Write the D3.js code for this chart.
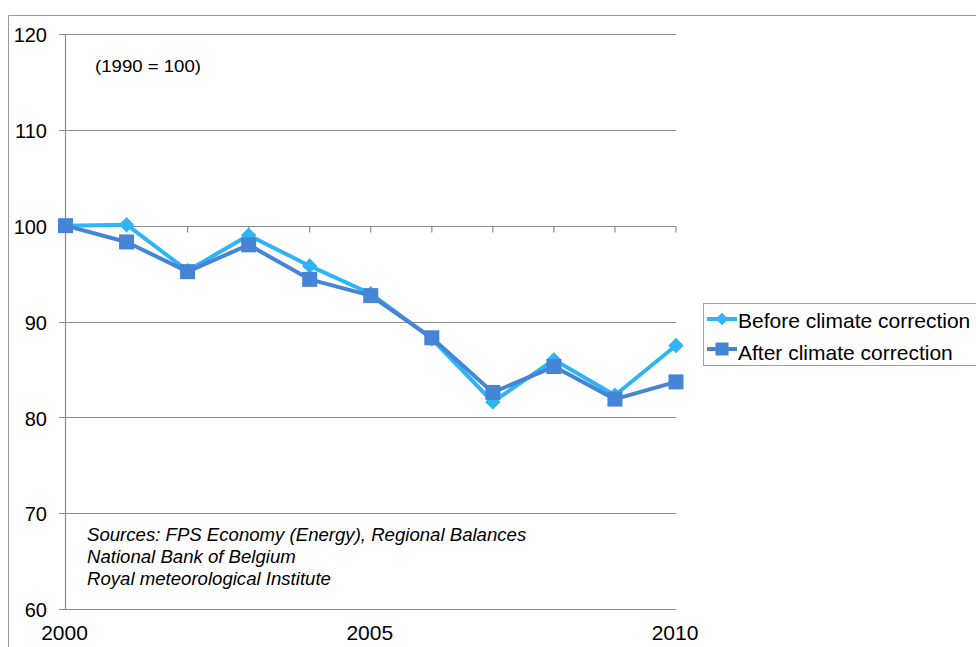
<!DOCTYPE html>
<html>
<head>
<meta charset="utf-8">
<script src="https://cdn.jsdelivr.net/npm/d3@7"></script>
<style>
  html, body { margin: 0; padding: 0; background: #fff; }
  svg { display: block; font-family: "Liberation Sans", Arial, sans-serif; }
</style>
</head>
<body>
<svg id="chart" width="976" height="647"></svg>
<script>
// Energy intensity index, 1990 = 100
const years = [2000, 2001, 2002, 2003, 2004, 2005, 2006, 2007, 2008, 2009, 2010];
const beforeCorrection = [100.0, 100.1, 95.3, 99.0, 95.8, 92.9, 88.2, 81.6, 86.0, 82.3, 87.5];
const afterCorrection  = [100.0, 98.3, 95.2, 98.0, 94.4, 92.7, 88.3, 82.6, 85.3, 81.9, 83.7];
const seriesNames = ["Before climate correction", "After climate correction"];
const yTicks = [60, 70, 80, 90, 100, 110, 120];
const xTickLabels = [2000, 2005, 2010];
const sourceLines = [
  "Sources: FPS Economy (Energy), Regional Balances",
  "National Bank of Belgium",
  "Royal meteorological Institute"
];

const svg = d3.select("#chart");
const colBefore = "#2fb5f7";
const colAfter = "#4684d5";
const gridCol = "#8c8c8c";

// outer chart frame
svg.append("path")
  .attr("d", "M8.5,647 L8.5,15.5 L976,15.5")
  .attr("fill", "none").attr("stroke", "#999").attr("stroke-width", 1);

const x = d3.scaleLinear().domain([2000, 2010]).range([65.5, 676]);
const y = d3.scaleLinear().domain([60, 120]).range([609, 34]);

// horizontal gridlines
svg.append("g").selectAll("line").data(yTicks).join("line")
  .attr("x1", 59).attr("x2", 676)
  .attr("y1", d => Math.round(y(d)) + 0.5).attr("y2", d => Math.round(y(d)) + 0.5)
  .attr("stroke", gridCol).attr("stroke-width", 1.2);

// vertical value axis
svg.append("line")
  .attr("x1", 65.5).attr("x2", 65.5).attr("y1", y(120)).attr("y2", y(60))
  .attr("stroke", gridCol).attr("stroke-width", 1.2);

// category axis crossing at 100, with tick marks below it
const yCross = Math.round(y(100)) + 0.5;
svg.append("g").selectAll("line").data(years).join("line")
  .attr("x1", d => x(d)).attr("x2", d => x(d))
  .attr("y1", yCross).attr("y2", yCross + 6)
  .attr("stroke", gridCol).attr("stroke-width", 1.2);

// y tick labels
svg.append("g").selectAll("text").data(yTicks).join("text")
  .attr("x", 47).attr("y", d => y(d) + 1).attr("dy", "0.36em")
  .attr("text-anchor", "end").attr("font-size", 20).attr("fill", "#000")
  .text(d => d);

// x tick labels
svg.append("g").selectAll("text").data(xTickLabels).join("text")
  .attr("x", d => x(d) - 1).attr("y", 640)
  .attr("text-anchor", "middle").attr("font-size", 21).attr("fill", "#000")
  .text(d => d);

// annotations
svg.append("text").attr("x", 95).attr("y", 72)
  .attr("font-size", 17).attr("fill", "#000")
  .attr("textLength", 106).attr("lengthAdjust", "spacingAndGlyphs")
  .text("(1990 = 100)");

svg.append("g").selectAll("text").data(sourceLines).join("text")
  .attr("x", 87).attr("y", (d, i) => 540.5 + i * 22)
  .attr("font-size", 18.6).attr("font-style", "italic").attr("fill", "#000")
  .text(d => d);

// series lines
const line = d3.line().x((d, i) => x(years[i])).y(d => y(d));

svg.append("path").datum(beforeCorrection)
  .attr("d", line).attr("fill", "none")
  .attr("stroke", colBefore).attr("stroke-width", 4).attr("stroke-linejoin", "round");

svg.append("path").datum(afterCorrection)
  .attr("d", line).attr("fill", "none")
  .attr("stroke", colAfter).attr("stroke-width", 4).attr("stroke-linejoin", "round");

// markers
const diamond = d3.symbol().type(d3.symbolDiamond2).size(150);
svg.append("g").selectAll("path").data(beforeCorrection).join("path")
  .attr("transform", (d, i) => `translate(${x(years[i])},${y(d)})`)
  .attr("d", diamond).attr("fill", colBefore);

svg.append("g").selectAll("rect").data(afterCorrection).join("rect")
  .attr("x", (d, i) => x(years[i]) - 7.5).attr("y", d => y(d) - 7.5)
  .attr("width", 15).attr("height", 15).attr("fill", colAfter);

// legend
const legend = svg.append("g");
legend.append("rect")
  .attr("x", 703.5).attr("y", 303.5).attr("width", 290).attr("height", 62)
  .attr("fill", "#fff").attr("stroke", "#5ab9ec").attr("stroke-width", 1);

const legendItems = [
  { name: seriesNames[0], color: colBefore, shape: "diamond" },
  { name: seriesNames[1], color: colAfter, shape: "square" }
];
legendItems.forEach((it, i) => {
  const cy = 319 + i * 30;
  legend.append("line").attr("x1", 707).attr("x2", 737).attr("y1", cy).attr("y2", cy)
    .attr("stroke", it.color).attr("stroke-width", 4);
  if (it.shape === "diamond") {
    legend.append("path").attr("transform", `translate(722,${cy})`)
      .attr("d", d3.symbol().type(d3.symbolDiamond2).size(100)).attr("fill", it.color);
  } else {
    legend.append("rect").attr("x", 715.5).attr("y", cy - 6.5).attr("width", 13).attr("height", 13)
      .attr("fill", it.color);
  }
  legend.append("text").attr("x", 738).attr("y", cy + 1 + i * 2).attr("dy", "0.36em")
    .attr("font-size", 21).attr("fill", "#000").text(it.name);
});
</script>
</body>
</html>
